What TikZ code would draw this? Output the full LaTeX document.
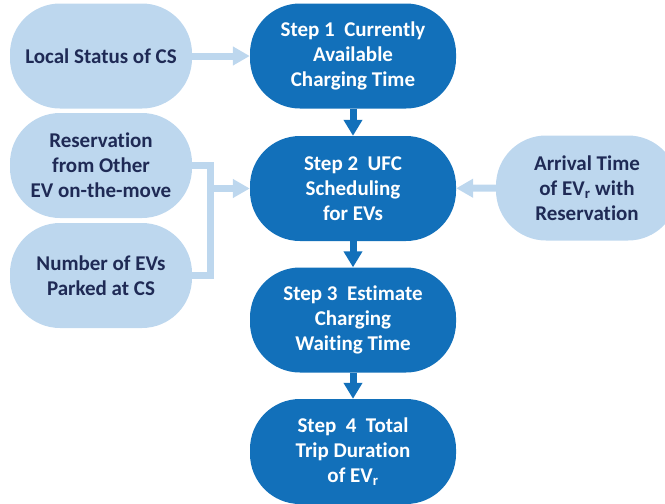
\documentclass[tikz,border=0pt]{standalone}
\usepackage{fontspec}
\setmainfont{Carlito}[Ligatures=NoCommon]
\usetikzlibrary{arrows.meta}

\definecolor{stepblue}{HTML}{1270BA}
\definecolor{inputblue}{HTML}{BDD7EE}
\definecolor{inktext}{HTML}{1F2A55}

\tikzset{
  base/.style={rounded corners=50pt, minimum height=105pt, align=center,
    font=\fontsize{21}{25}\selectfont\bfseries, inner sep=0pt},
  inputbox/.style={base, fill=inputblue, text=inktext, minimum width=182pt},
  stepbox/.style={base, fill=stepblue, text=white, minimum width=206pt},
  feedline/.style={draw=inputblue, line width=7pt},
  feedarrow/.style={feedline, -{Triangle[width=18pt,length=17pt]}},
  flowarrow/.style={draw=stepblue, line width=7pt, -{Triangle[width=18pt,length=16pt]}}
}

\begin{document}
\begin{tikzpicture}[x=1pt, y=-1pt]
  \clip (0,0) rectangle (665,504);

  % input boxes on the left and right
  \node[inputbox] (local) at (101,56)    {Local Status of CS};
  \node[inputbox] (resv)  at (101,165.5) {Reservation\\from Other\\EV on-the-move};
  \node[inputbox] (park)  at (101,275.5) {Number of EVs\\Parked at CS};
  \node[inputbox] (arrv)  at (587,188)   {Arrival Time\\of EV\textsubscript{r} with\\Reservation};

  % processing steps
  \node[stepbox] (s1) at (353,56)    {Step 1\ \ Currently\\Available\\Charging Time};
  \node[stepbox] (s2) at (353,188.5) {Step 2\ \ UFC\\Scheduling\\for EVs};
  \node[stepbox] (s3) at (353,320)   {Step 3\ \ Estimate\\Charging\\Waiting Time};
  \node[stepbox] (s4) at (353,451.5) {Step\ \ 4\ \ Total\\Trip Duration\\of EV\textsubscript{r}};

  % inputs feeding the steps
  \draw[feedarrow] (local) -- (s1);
  \coordinate (bus) at (210,275.5);
  \draw[feedline] (resv.east) -| (bus) -- (park.east);
  \draw[feedarrow] (bus |- s2) -- (s2);
  \draw[feedarrow] (arrv) -- (s2);

  % main flow
  \draw[flowarrow] (s1) -- (s2);
  \draw[flowarrow] (s2) -- (s3);
  \draw[flowarrow] (s3) -- (s4);
\end{tikzpicture}
\end{document}
